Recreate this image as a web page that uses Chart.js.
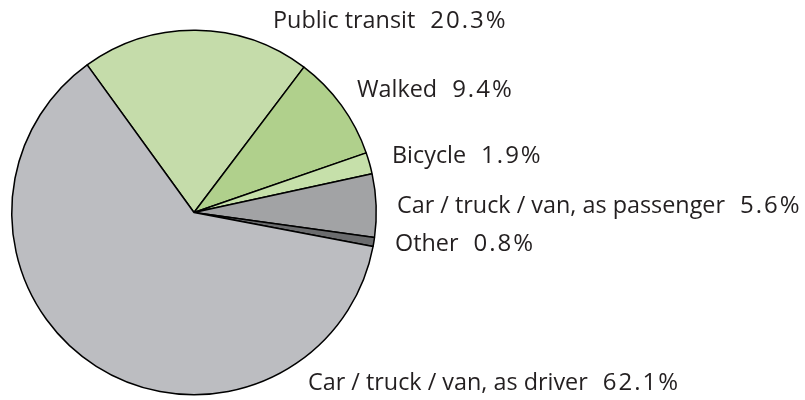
<!DOCTYPE html>
<html>
<head>
<meta charset="utf-8">
<script src="https://cdn.jsdelivr.net/npm/chart.js@4.4.1/dist/chart.umd.min.js"></script>
<style>
  html, body { margin: 0; padding: 0; background: #ffffff; }
  #wrap { width: 805px; height: 400px; position: relative; }
</style>
</head>
<body>
<div id="wrap"><canvas id="c" width="805" height="400"></canvas></div>
<script>
// ---- data ----
const categories = [
  "Public transit",
  "Walked",
  "Bicycle",
  "Car / truck / van, as passenger",
  "Other",
  "Car / truck / van, as driver"
];
const shares = [20.3, 9.4, 1.9, 5.6, 0.8, 62.1];

// ---- styling / layout (kept separate from data) ----
const sliceColors = ["#c5dcaa", "#b0d08c", "#c6e0aa", "#a2a3a5", "#6b6c6e", "#bcbdc1"];
// label anchor: left x, baseline y
const labelAnchors = [
  [273, 28],
  [357, 97],
  [392, 163],
  [397, 213],
  [395, 251],
  [308, 390]
];

const labelPlugin = {
  id: 'outerLabels',
  afterDraw(chart) {
    const ctx = chart.ctx;
    ctx.save();
    const font = '24px "Open Sans", "Noto Sans", sans-serif';
    ctx.font = font;
    ctx.fillStyle = '#231f20';
    ctx.textBaseline = 'alphabetic';
    ctx.textAlign = 'left';
    const nameScale = 328 / ctx.measureText(categories[3]).width;
    categories.forEach((name, i) => {
      const [x, y] = labelAnchors[i];
      const nameW = ctx.measureText(name).width * nameScale;
      ctx.save();
      ctx.translate(x, y);
      ctx.scale(nameScale, 1);
      ctx.fillText(name, 0, 0);
      ctx.restore();
      ctx.save();
      ctx.font = font;
      ctx.letterSpacing = '2px';
      ctx.fillText(shares[i].toFixed(1) + '%', x + nameW + 15, y);
      ctx.restore();
    });
    ctx.restore();
  }
};

new Chart(document.getElementById('c'), {
  type: 'pie',
  data: {
    labels: categories,
    datasets: [{
      data: shares,
      backgroundColor: sliceColors,
      borderColor: '#000000',
      borderWidth: 1.5
    }]
  },
  options: {
    responsive: false,
    animation: false,
    rotation: -35.9,
    layout: { padding: { left: 11, top: 29, bottom: 4, right: 428 } },
    plugins: {
      legend: { display: false },
      tooltip: { enabled: false },
      title: { display: false }
    }
  },
  plugins: [labelPlugin]
});
</script>
</body>
</html>
